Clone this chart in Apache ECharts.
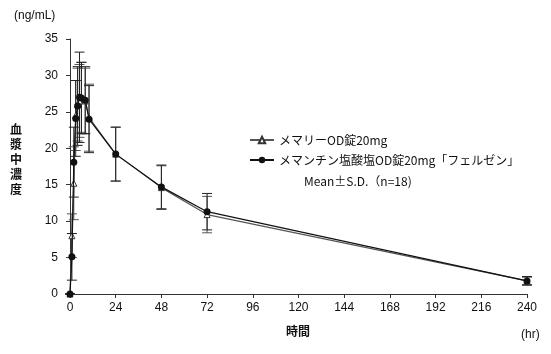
<!DOCTYPE html>
<html>
<head>
<meta charset="utf-8">
<script src="https://cdn.jsdelivr.net/npm/echarts@6/dist/echarts.min.js"></script>
<style>
  html, body { margin: 0; padding: 0; background: #fff; }
  #chart { width: 551px; height: 354px; }
</style>
</head>
<body>
<div id="chart"></div>
<script>
// sampling times (hr)
const times = [0, 1, 2, 3, 4, 5, 6, 8, 10, 24, 48, 72, 240]
// メマリーOD錠20mg
const refMean = [0, 8.0, 15.2, 24.5, 26.0, 26.5, 27.0, 26.5, 24.2, 19.2, 14.6, 10.9, 1.8]
const refSd = [0, 3.0, 5.0, 4.8, 5.0, 5.0, 4.8, 4.5, 4.6, 3.7, 3.0, 2.5, 0.5]
// メマンチン塩酸塩OD錠20mg「フェルゼン」
const testMean = [0, 5.1, 18.1, 24.1, 25.8, 27.0, 26.9, 26.6, 24.0, 19.2, 14.7, 11.3, 1.8]
const testSd = [0, 3.2, 4.8, 5.2, 5.4, 6.2, 4.9, 4.6, 4.6, 3.7, 3.0, 2.5, 0.6]
const xTicks = [0, 24, 48, 72, 96, 120, 144, 168, 192, 216, 240]
const yTicks = [0, 5, 10, 15, 20, 25, 30, 35]

const names = ['メマリーOD錠20mg', 'メマンチン塩酸塩OD錠20mg「フェルゼン」']
const jp = '"Noto Sans CJK JP", sans-serif'
const num = '"Liberation Sans", Arial, sans-serif'

const chart = echarts.init(document.getElementById('chart'))

function errData (mean, sd) {
  return times.map((t, i) => [t, mean[i] - sd[i], mean[i] + sd[i]])
}

function errItem (color) {
  return function (params, api) {
    const lo = api.coord([api.value(0), api.value(1)])
    const hi = api.coord([api.value(0), api.value(2)])
    const w = 5
    const style = { stroke: color, lineWidth: 1 }
    return {
      type: 'group',
      children: [
        { type: 'line', shape: { x1: hi[0], y1: hi[1], x2: lo[0], y2: lo[1] }, style: style },
        { type: 'line', shape: { x1: hi[0] - w, y1: hi[1], x2: hi[0] + w, y2: hi[1] }, style: style },
        { type: 'line', shape: { x1: lo[0] - w, y1: lo[1], x2: lo[0] + w, y2: lo[1] }, style: style }
      ]
    }
  }
}

const option = {
  animation: false,
  backgroundColor: '#fff',
  grid: { left: 70, right: 24, top: 39, bottom: 60 },
  legend: {
    orient: 'vertical',
    left: 244,
    top: 129,
    itemGap: 8,
    itemWidth: 24,
    itemHeight: 8,
    textStyle: { fontFamily: jp, fontSize: 12, color: '#111' },
    data: names
  },
  xAxis: {
    type: 'value',
    min: 0,
    max: 240,
    interval: 24,
    axisLine: { lineStyle: { color: '#333' } },
    axisTick: { length: 4, lineStyle: { color: '#333' } },
    axisLabel: { fontFamily: num, fontSize: 12, color: '#111', margin: 8,
      formatter: v => xTicks.indexOf(v) >= 0 ? String(v) : '' },
    splitLine: { show: false }
  },
  yAxis: {
    type: 'value',
    min: 0,
    max: 35,
    interval: 5,
    axisLine: { show: true, lineStyle: { color: '#333' } },
    axisTick: { show: true, length: 4, lineStyle: { color: '#333' } },
    axisLabel: { fontFamily: num, fontSize: 12, color: '#111', margin: 12,
      formatter: v => yTicks.indexOf(v) >= 0 ? String(v) : '' },
    splitLine: { show: false }
  },
  graphic: [
    { type: 'text', left: 14, top: 10, style: { text: '(ng/mL)', font: '12px ' + num, fill: '#111' } },
    { type: 'text', left: 10, top: 122, style: { text: '血\n漿\n中\n濃\n度', font: 'bold 12px ' + jp, fill: '#111', lineHeight: 15 } },
    { type: 'text', left: 286, top: 325, style: { text: '時間', font: 'bold 12px ' + jp, fill: '#111' } },
    { type: 'text', left: 521, top: 329, style: { text: '(hr)', font: '12px ' + num, fill: '#111' } },
    { type: 'text', left: 304, top: 175, style: { text: 'Mean±S.D.（n=18)', font: '12px ' + jp, fill: '#111' } }
  ],
  series: [
    {
      name: names[0] + '_sd',
      type: 'custom',
      renderItem: errItem('#555'),
      data: errData(refMean, refSd),
      z: 1
    },
    {
      name: names[1] + '_sd',
      type: 'custom',
      renderItem: errItem('#222'),
      data: errData(testMean, testSd),
      z: 1
    },
    {
      name: names[0],
      type: 'line',
      data: times.map((t, i) => [t, refMean[i]]),
      symbol: 'triangle',
      symbolSize: 6,
      showAllSymbol: true,
      lineStyle: { color: '#555', width: 1.2 },
      itemStyle: { color: '#fff', borderColor: '#333', borderWidth: 1 },
      z: 3
    },
    {
      name: names[1],
      type: 'line',
      data: times.map((t, i) => [t, testMean[i]]),
      symbol: 'circle',
      symbolSize: 7,
      showAllSymbol: true,
      lineStyle: { color: '#111', width: 1.2 },
      itemStyle: { color: '#111' },
      z: 4
    }
  ]
}

chart.setOption(option)
</script>
</body>
</html>
